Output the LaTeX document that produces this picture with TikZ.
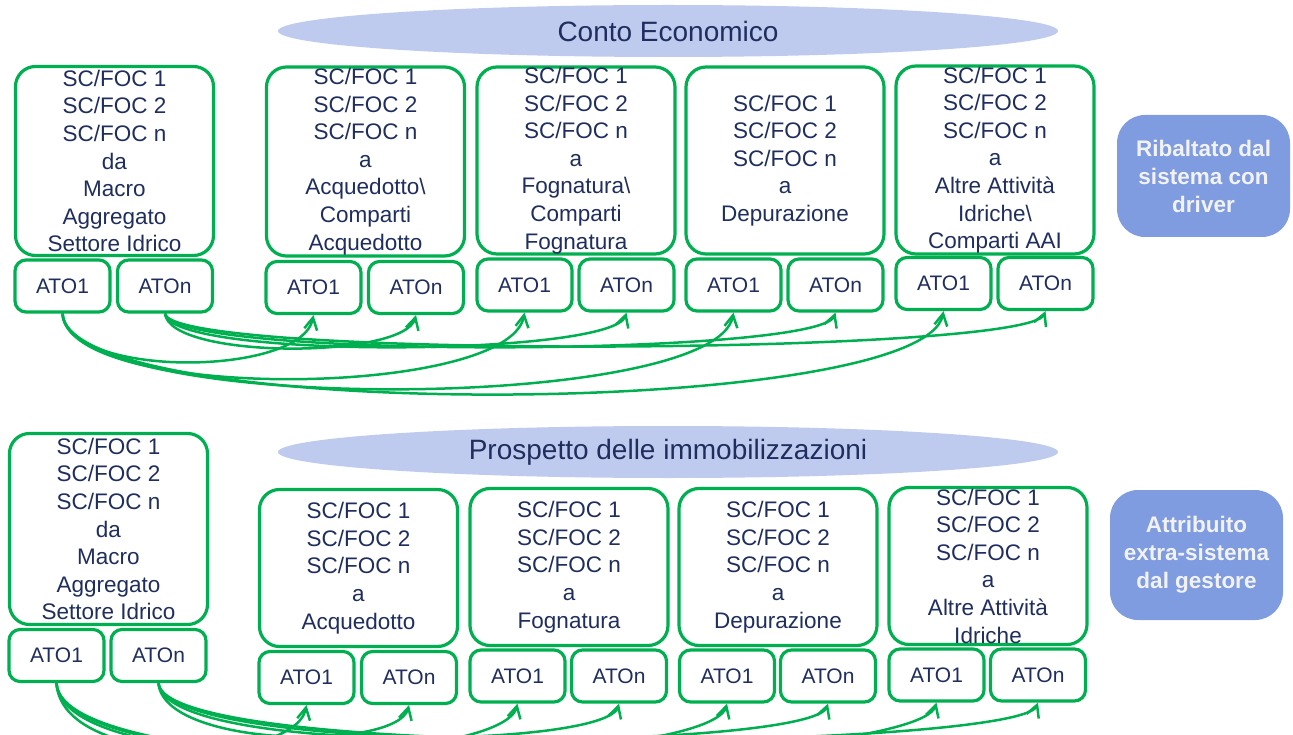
\documentclass[tikz,border=0pt]{standalone}
\usepackage{fontspec}
\setmainfont{Liberation Sans}
\usetikzlibrary{arrows.meta,shapes.geometric}
\definecolor{grn}{HTML}{00B050}
\definecolor{txt}{HTML}{1F2E5E}
\definecolor{ellc}{HTML}{BFCBEE}
\definecolor{labc}{HTML}{7F9CE1}
\definecolor{labt}{HTML}{F2F2F2}
\begin{document}
\begin{tikzpicture}[x=1pt,y=1pt,
 bigbox/.style={draw=grn, line width=3.2pt, rounded corners=20pt, fill=white, align=center, text=txt, font=\fontsize{22.5}{27.6}\selectfont, inner sep=0pt, minimum width=198pt},
 atobox/.style={draw=grn, line width=3.2pt, rounded corners=11pt, fill=white, text=txt, font=\fontsize{21}{25}\selectfont, minimum width=95pt, minimum height=52pt, inner sep=0pt},
 ttl/.style={ellipse, fill=ellc, minimum width=780pt, minimum height=52pt, inner sep=0pt, text=txt, font=\fontsize{28}{32}\selectfont},
 lab/.style={fill=labc, rounded corners=28pt, minimum width=173pt, text=labt, font=\bfseries\fontsize{22.5}{28}\selectfont, align=center, inner sep=0pt},
 conn/.style={draw=grn, line width=2.5pt, -{Straight Barb[length=12pt,width=13pt]}}
]
\useasboundingbox (0,0) rectangle (1293,-735);
\clip (0,0) rectangle (1293,-735);

% titles
\node[ttl] (e1) at (668,-31) {Conto Economico};
\node[ttl] (e2) at (668,-452) {Prospetto delle immobilizzazioni};

% top boxes
\node[bigbox, minimum height=189pt] (t1) at (114.5,-161) {SC/FOC 1\\SC/FOC 2\\SC/FOC n\\da\\Macro\\Aggregato\\Settore Idrico};
\node[bigbox, minimum height=189pt] (t2) at (365.5,-161.5) {SC/FOC 1\\SC/FOC 2\\SC/FOC n\\a\\Acquedotto\textbackslash\\Comparti\\Acquedotto};
\node[bigbox, minimum height=187pt] (t3) at (576,-160.5) {SC/FOC 1\\SC/FOC 2\\SC/FOC n\\a\\Fognatura\textbackslash\\Comparti\\Fognatura};
\node[bigbox, minimum height=187pt] (t4) at (785,-160.5) {SC/FOC 1\\SC/FOC 2\\SC/FOC n\\a\\Depurazione};
\node[bigbox, minimum height=188pt] (t5) at (995,-160) {SC/FOC 1\\SC/FOC 2\\SC/FOC n\\a\\Altre Attività\\Idriche\textbackslash\\Comparti AAI};

\node[atobox] (t1a) at (62.5,-286) {ATO1};
\node[atobox] (t1n) at (165,-286) {ATOn};
\node[atobox] (t2a) at (313.5,-287.5) {ATO1};
\node[atobox] (t2n) at (416,-287.5) {ATOn};
\node[atobox] (t3a) at (524.5,-285) {ATO1};
\node[atobox] (t3n) at (626.5,-285) {ATOn};
\node[atobox] (t4a) at (733.5,-285) {ATO1};
\node[atobox] (t4n) at (835.5,-285) {ATOn};
\node[atobox] (t5a) at (943.5,-283.5) {ATO1};
\node[atobox] (t5n) at (1045.5,-283.5) {ATOn};

% bottom boxes
\node[bigbox, minimum height=191pt] (b1) at (108.5,-529) {SC/FOC 1\\SC/FOC 2\\SC/FOC n\\da\\Macro\\Aggregato\\Settore Idrico};
\node[bigbox, minimum height=157pt] (b2) at (358.5,-568) {SC/FOC 1\\SC/FOC 2\\SC/FOC n\\a\\Acquedotto};
\node[bigbox, minimum height=157pt] (b3) at (569,-567) {SC/FOC 1\\SC/FOC 2\\SC/FOC n\\a\\Fognatura};
\node[bigbox, minimum height=157pt] (b4) at (778,-567) {SC/FOC 1\\SC/FOC 2\\SC/FOC n\\a\\Depurazione};
\node[bigbox, minimum height=157pt] (b5) at (988,-566) {SC/FOC 1\\SC/FOC 2\\SC/FOC n\\a\\Altre Attività\\Idriche};

\node[atobox] (b1a) at (56.5,-655.5) {ATO1};
\node[atobox] (b1n) at (158.5,-655.5) {ATOn};
\node[atobox] (b2a) at (306.5,-677.5) {ATO1};
\node[atobox] (b2n) at (409,-677.5) {ATOn};
\node[atobox] (b3a) at (517.5,-676) {ATO1};
\node[atobox] (b3n) at (619,-676) {ATOn};
\node[atobox] (b4a) at (727,-676) {ATO1};
\node[atobox] (b4n) at (828,-676) {ATOn};
\node[atobox] (b5a) at (936.5,-675) {ATO1};
\node[atobox] (b5n) at (1038,-675) {ATOn};

% side labels
\node[lab, minimum height=122pt] (r1) at (1203.5,-176) {Ribaltato dal\\sistema con\\driver};
\node[lab, minimum height=130pt] (r2) at (1196.5,-555) {Attribuito\\extra-sistema\\dal gestore};

% top connectors
\draw[conn] (t1a.south) .. controls +(5,-65) and +(-12,-62) .. (t2a.south);
\draw[conn] (t1a.south) .. controls +(5,-89) and +(-15,-86) .. (t3a.south);
\draw[conn] (t1a.south) .. controls +(5,-102) and +(-18,-100) .. (t4a.south);
\draw[conn] (t1a.south) .. controls +(5,-110) and +(-20,-108) .. (t5a.south);
\draw[conn] (t1n.south) .. controls +(5,-46) and +(-12,-44) .. (t2n.south);
\draw[conn] (t1n.south) .. controls +(5,-46) and +(-14,-44) .. (t3n.south);
\draw[conn] (t1n.south) .. controls +(5,-46) and +(-16,-44) .. (t4n.south);
\draw[conn] (t1n.south) .. controls +(5,-46) and +(-18,-44) .. (t5n.south);

% bottom connectors
\draw[conn] (b1a.south) .. controls +(5,-85) and +(-12,-60) .. (b2a.south);
\draw[conn] (b1a.south) .. controls +(5,-95) and +(-15,-62) .. (b3a.south);
\draw[conn] (b1a.south) .. controls +(5,-105) and +(-18,-64) .. (b4a.south);
\draw[conn] (b1a.south) .. controls +(5,-115) and +(-20,-66) .. (b5a.south);
\draw[conn] (b1n.south) .. controls +(5,-65) and +(-12,-46) .. (b2n.south);
\draw[conn] (b1n.south) .. controls +(5,-70) and +(-14,-46) .. (b3n.south);
\draw[conn] (b1n.south) .. controls +(5,-75) and +(-16,-46) .. (b4n.south);
\draw[conn] (b1n.south) .. controls +(5,-80) and +(-18,-46) .. (b5n.south);
\end{tikzpicture}
\end{document}
